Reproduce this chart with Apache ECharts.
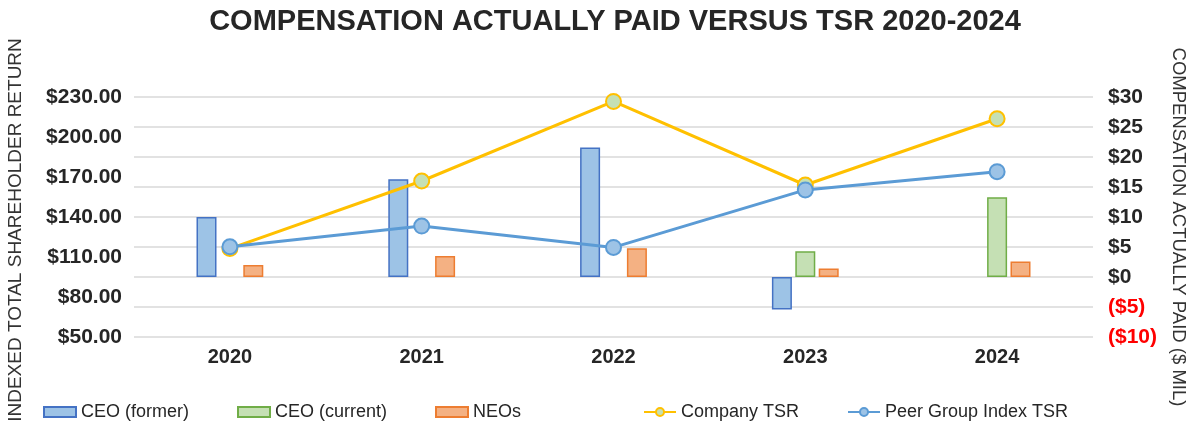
<!DOCTYPE html>
<html><head><meta charset="utf-8">
<script src="https://cdn.jsdelivr.net/npm/echarts@6/dist/echarts.min.js"></script>
<style>html,body{margin:0;padding:0;background:#fff}#c{width:1192px;height:428px}</style>
</head><body><div id="c"></div>
<script>
const categories = ['2020','2021','2022','2023','2024'];
const ceoFormer = [10.0, 16.3, 21.6, -5.4, null];
const ceoCurrent = [null, null, null, 4.3, 13.3];
const neos = [2.0, 3.5, 4.8, 1.4, 2.6];
const companyTSR = [116.3, 167.0, 226.7, 164.0, 213.7];
const peerTSR = [117.7, 133.2, 117.2, 160.3, 174.0];
const leftTicks = {min: 50, max: 230, interval: 30};
const rightTicks = {min: -10, max: 30, interval: 5};

const chart = echarts.init(document.getElementById('c'));
const F = 'Liberation Sans, Arial, sans-serif';
const barCommon = {type:'bar', yAxisIndex:1, barWidth:20, barGap:'17%'};
function lg(name, left, icon){
  return {data:[{name:name, icon: icon}], left:left, top:403, padding:0, itemWidth:32, itemHeight:10, itemGap:0,
    textStyle:{fontFamily:F, fontSize:18, color:'#262626'}};
}
chart.setOption({
  animation:false,
  legend:[lg('CEO (former)',43,'rect'), lg('CEO (current)',237,'rect'), lg('NEOs',435,'rect'),
          lg('Company TSR',643), lg('Peer Group Index TSR',847)],
  grid:{left:134, right:99, top:97, bottom:91},
  xAxis:{type:'category', data:categories, axisTick:{show:false}, axisLine:{show:false},
    axisLabel:{fontFamily:F, fontSize:20, fontWeight:'bold', color:'#262626', margin:10}},
  yAxis:[
    {type:'value', min:leftTicks.min, max:leftTicks.max, interval:leftTicks.interval, splitLine:{show:false},
     axisLine:{show:false}, axisTick:{show:false},
     axisLabel:{fontFamily:F, fontSize:21, fontWeight:'bold', color:'#262626', margin:12,
       formatter:v=>'$'+v.toFixed(2)}},
    {type:'value', min:rightTicks.min, max:rightTicks.max, interval:rightTicks.interval,
     splitLine:{lineStyle:{color:'#D9D9D9', width:1.5}}, axisLine:{show:false}, axisTick:{show:false},
     axisLabel:{fontFamily:F, fontSize:21, fontWeight:'bold', color:'#262626', margin:15,
       formatter:v=> v<0 ? '{r|($'+(-v)+')}' : '$'+v,
       rich:{r:{color:'#FF0000', fontFamily:F, fontSize:21, fontWeight:'bold'}}}}
  ],
  graphic:[
    {type:'text', x:615, y:22, style:{text:'COMPENSATION ACTUALLY PAID VERSUS TSR 2020-2024',
      font:'bold 29px '+F, fill:'#262626', align:'center', verticalAlign:'middle'}},
    {type:'text', x:16, y:230, rotation:Math.PI/2, style:{text:'INDEXED TOTAL SHAREHOLDER RETURN',
      font:'19px '+F, fill:'#333', align:'center', verticalAlign:'middle'}},
    {type:'text', x:1178, y:227, rotation:-Math.PI/2, style:{text:'COMPENSATION ACTUALLY PAID ($ MIL)',
      font:'18.5px '+F, fill:'#333', align:'center', verticalAlign:'middle'}}
  ],
  series:[
    Object.assign({name:'CEO (former)', data:ceoFormer, itemStyle:{color:'#9DC3E6', borderColor:'#4472C4', borderWidth:1.5}}, barCommon),
    Object.assign({name:'CEO (current)', data:ceoCurrent, itemStyle:{color:'#C5E0B4', borderColor:'#70AD47', borderWidth:1.5}}, barCommon),
    Object.assign({name:'NEOs', data:neos, itemStyle:{color:'#F4B183', borderColor:'#ED7D31', borderWidth:1.5}}, barCommon),
    {name:'Company TSR', type:'line', yAxisIndex:0, data:companyTSR, symbol:'circle', symbolSize:15,
     lineStyle:{color:'#FFC000', width:3}, itemStyle:{color:'#C5E0B4', borderColor:'#FFC000', borderWidth:2}},
    {name:'Peer Group Index TSR', type:'line', yAxisIndex:0, data:peerTSR, symbol:'circle', symbolSize:15,
     lineStyle:{color:'#5B9BD5', width:3}, itemStyle:{color:'#9DC3E6', borderColor:'#5B9BD5', borderWidth:2}}
  ]
});
</script></body></html>
